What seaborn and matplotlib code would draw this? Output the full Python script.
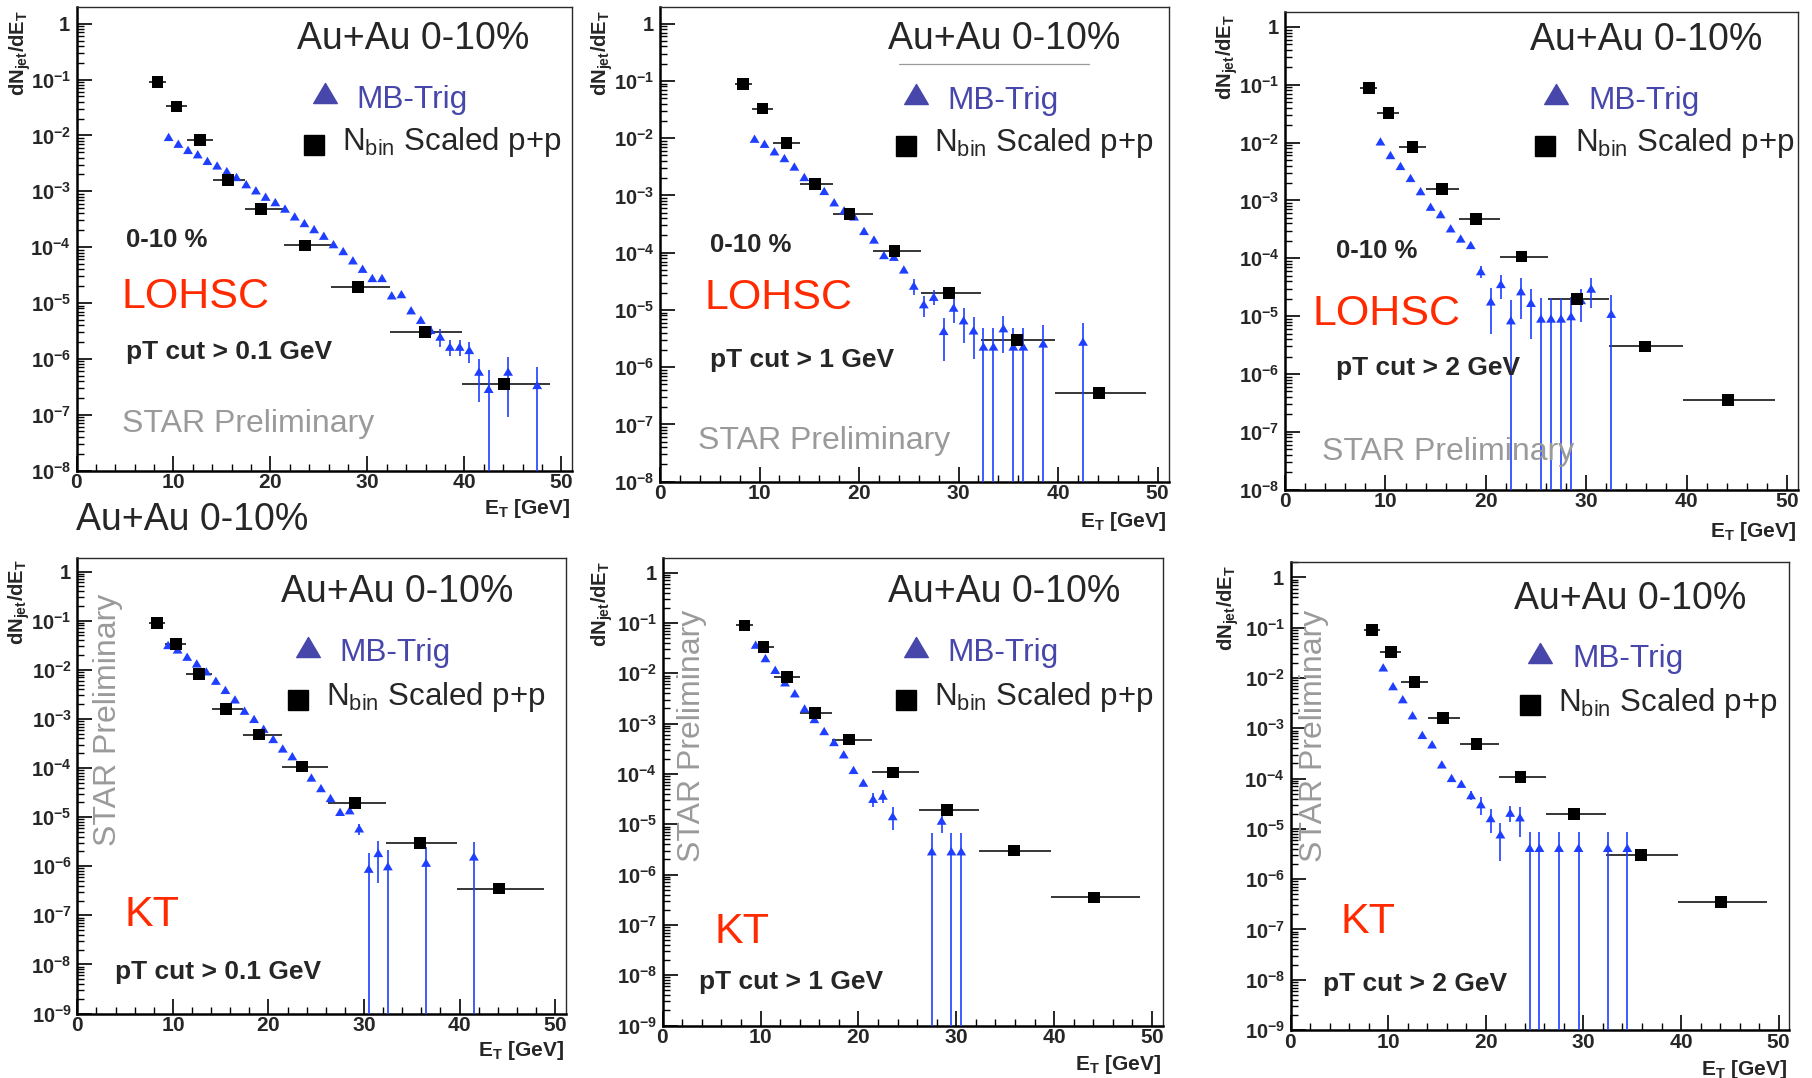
import numpy as np
import matplotlib
matplotlib.use("Agg")
import matplotlib.pyplot as plt
import seaborn as sns
from matplotlib.path import Path
from matplotlib.lines import Line2D
from matplotlib.ticker import (FixedLocator, FuncFormatter, LogLocator,
                               MultipleLocator, NullFormatter)

# ---------------------------------------------------------------- data
# N_bin scaled p+p reference spectrum (identical in all six panels)
pp_et = [8.35, 10.3, 12.7, 15.6, 19.05, 23.55, 29.05, 35.9, 44.1]
pp_bin_lo = [7.5, 9.2, 11.35, 14.05, 17.35, 21.4, 26.2, 32.3, 39.7]
pp_bin_hi = [9.2, 11.35, 14.05, 17.35, 21.4, 26.2, 32.3, 39.7, 48.8]
pp_dndet = [0.089, 0.033, 0.0083, 0.0016, 4.8e-4, 1.07e-4, 1.95e-5, 3.0e-6, 3.5e-7]

# MB-Trig Au+Au, LOHSC, pT cut > 0.1 GeV
lohsc01_et = [9.5, 10.5, 11.5, 12.5, 13.5, 14.5, 15.5, 16.5, 17.5, 18.5, 19.5, 20.5,
              21.5, 22.5, 23.5, 24.5, 25.5, 26.5, 27.5, 28.5, 29.5, 30.5, 31.5, 32.5,
              33.5, 34.5, 35.5, 36.5, 37.5, 38.5, 39.5, 40.5, 41.5, 42.5, 44.5, 47.5]
lohsc01_val = [9.4e-3, 7.1e-3, 5.5e-3, 4.6e-3, 3.5e-3, 2.9e-3, 2.3e-3, 1.8e-3, 1.34e-3,
               1.04e-3, 8.0e-4, 6.4e-4, 4.9e-4, 3.55e-4, 2.7e-4, 2.1e-4, 1.6e-4, 1.13e-4,
               8.5e-5, 5.8e-5, 4.1e-5, 2.8e-5, 2.8e-5, 1.37e-5, 1.44e-5, 7.4e-6, 5.0e-6,
               3.3e-6, 2.5e-6, 1.65e-6, 1.65e-6, 1.44e-6, 5.9e-7, 2.9e-7, 5.9e-7, 3.4e-7]
lohsc01_err = [0, 0, 0, 0, 0, 0, 0, 0, 0, 0, 0, 0, 0, 0, 0, 0, 0, 0, 0, 0, 0, 0, 0, 0,
               0, 0, 0, 6e-7, 8.5e-7, 5.5e-7, 5.5e-7, 6e-7, 4.2e-7, 3.5e-7, 5e-7, 3.8e-7]

# MB-Trig Au+Au, LOHSC, pT cut > 1 GeV
lohsc1_et = [9.5, 10.5, 11.5, 12.5, 13.5, 14.5, 15.5, 16.5, 17.5, 18.5, 19.5, 20.5,
             21.5, 22.5, 23.5, 24.5, 25.5, 26.5, 27.5, 28.5, 29.5, 30.5, 31.5, 32.5,
             33.5, 34.5, 35.5, 36.5, 38.5, 42.5]
lohsc1_val = [9.8e-3, 8.0e-3, 5.9e-3, 4.5e-3, 3.2e-3, 2.1e-3, 1.7e-3, 1.2e-3, 7.6e-4,
              5.5e-4, 4.3e-4, 2.4e-4, 1.7e-4, 9.1e-5, 8.5e-5, 5.1e-5, 2.66e-5, 1.26e-5,
              1.7e-5, 4.3e-6, 1.1e-5, 6.6e-6, 4.4e-6, 2.3e-6, 2.3e-6, 4.8e-6, 2.3e-6,
              2.3e-6, 2.6e-6, 2.8e-6]
lohsc1_err = [0, 0, 0, 0, 0, 0, 0, 0, 0, 0, 0, 0, 0, 0, 0, 0, 8e-6, 5e-6, 5e-6, 3e-6,
              5e-6, 4e-6, 3e-6, 2.6e-6, 2.6e-6, 3e-6, 2.6e-6, 2.6e-6, 2.8e-6, 3.2e-6]

# MB-Trig Au+Au, LOHSC, pT cut > 2 GeV
lohsc2_et = [9.5, 10.5, 11.5, 12.5, 13.5, 14.5, 15.5, 16.5, 17.5, 18.5, 19.5, 20.5,
             21.5, 22.5, 23.5, 24.5, 25.5, 26.5, 27.5, 28.5, 29.5, 30.5, 32.5]
lohsc2_val = [1.05e-2, 6.1e-3, 3.95e-3, 2.45e-3, 1.45e-3, 7.8e-4, 5.8e-4, 3.3e-4, 2.2e-4,
              1.7e-4, 6.0e-5, 1.8e-5, 3.6e-5, 8.5e-6, 2.7e-5, 1.7e-5, 9.1e-6, 9.1e-6,
              9.1e-6, 1.0e-5, 1.9e-5, 3.0e-5, 1.1e-5]
lohsc2_err = [0, 0, 0, 0, 0, 0, 0, 0, 0, 0, 1.5e-5, 1.3e-5, 1.6e-5, 1.05e-5, 1.8e-5,
              1.3e-5, 1.15e-5, 1.15e-5, 1.15e-5, 1.15e-5, 1.1e-5, 1.6e-5, 1.2e-5]

# MB-Trig Au+Au, KT, pT cut > 0.1 GeV
kt01_et = [9.5, 10.5, 11.5, 12.5, 13.5, 14.5, 15.5, 16.5, 17.5, 18.5, 19.5, 20.5,
           21.5, 22.5, 23.5, 24.5, 25.5, 26.5, 27.5, 28.5, 29.5, 30.5, 31.5, 32.5,
           36.5, 41.5]
kt01_val = [3.2e-2, 2.6e-2, 1.85e-2, 1.35e-2, 9.3e-3, 6.0e-3, 3.9e-3, 2.5e-3, 1.47e-3,
            1.0e-3, 6.3e-4, 3.9e-4, 2.5e-4, 1.74e-4, 1.07e-4, 6.4e-5, 3.9e-5, 2.45e-5,
            1.28e-5, 1.38e-5, 5.9e-6, 8.9e-7, 1.86e-6, 1.0e-6, 1.18e-6, 1.58e-6]
kt01_err = [0, 0, 0, 0, 0, 0, 0, 0, 0, 0, 0, 0, 0, 0, 0, 0, 0, 0, 0, 0,
            1.5e-6, 1.0e-6, 1.4e-6, 1.1e-6, 1.25e-6, 1.6e-6]

# MB-Trig Au+Au, KT, pT cut > 1 GeV
kt1_et = [9.5, 10.5, 11.5, 12.5, 13.5, 14.5, 15.5, 16.5, 17.5, 18.5, 19.5, 20.5,
          21.5, 22.5, 23.5, 27.5, 28.5, 29.5, 30.5]
kt1_val = [3.7e-2, 2.0e-2, 1.17e-2, 6.6e-3, 4.0e-3, 2.0e-3, 1.23e-3, 7.1e-4, 4.3e-4,
           2.45e-4, 1.2e-4, 6.7e-5, 3.2e-5, 3.7e-5, 1.45e-5, 2.9e-6, 1.18e-5, 2.9e-6,
           2.9e-6]
kt1_err = [0, 0, 0, 0, 0, 0, 0, 0, 0, 0, 0, 0, 1e-5, 1e-5, 7e-6, 3.7e-6, 5e-6,
           3.7e-6, 3.7e-6]

# MB-Trig Au+Au, KT, pT cut > 2 GeV
kt2_et = [9.5, 10.5, 11.5, 12.5, 13.5, 14.5, 15.5, 16.5, 17.5, 18.5, 19.5, 20.5,
          21.5, 22.5, 23.5, 24.5, 25.5, 27.5, 29.5, 32.5, 34.5]
kt2_val = [1.63e-2, 6.9e-3, 3.8e-3, 1.82e-3, 7.4e-4, 4.8e-4, 1.92e-4, 1.03e-4, 7.9e-5,
           4.7e-5, 3.1e-5, 1.64e-5, 7.8e-6, 2.1e-5, 1.7e-5, 4.2e-6, 4.2e-6, 4.2e-6,
           4.2e-6, 4.2e-6, 4.2e-6]
kt2_err = [0, 0, 0, 0, 0, 0, 0, 0, 0, 1e-5, 1.2e-5, 8e-6, 5.5e-6, 7e-6, 1e-5,
           4.5e-6, 4.5e-6, 4.5e-6, 4.5e-6, 4.5e-6, 4.5e-6]

system_label = "Au+Au 0-10%"
centrality_label = "0-10 %"
mb_label = "MB-Trig"
pp_label = r"N$_{\mathrm{bin}}$ Scaled p+p"
prelim_label = "STAR Preliminary"

# ---------------------------------------------------------------- style
sns.set_theme(style="ticks")
plt.rcParams["font.family"] = ["Liberation Sans", "DejaVu Sans"]
plt.rcParams["mathtext.fontset"] = "custom"
plt.rcParams["mathtext.rm"] = "Liberation Sans"
plt.rcParams["mathtext.it"] = "Liberation Sans:italic"
plt.rcParams["mathtext.bf"] = "Liberation Sans:bold"
plt.rcParams["mathtext.sf"] = "Liberation Sans"

MB_BLUE = "#1f3fff"
LEG_BLUE = "#4747ab"
ALGO_RED = "#ff2a00"
STAR_GREY = "#9a9a9a"

W, H = 1812, 1078
fig = plt.figure(figsize=(W / 100, H / 100), dpi=100)
fig.patch.set_facecolor("white")

TRI = Path([(-1.0, -0.85), (1.0, -0.85), (0.0, 0.85), (-1.0, -0.85)],
           [Path.MOVETO, Path.LINETO, Path.LINETO, Path.CLOSEPOLY])


def fx(x):
    return x / W


def fy(y):
    return 1 - y / H


def put(x, y, s, **kw):
    fig.text(fx(x), fy(y), s, **kw)


def log_label(v, pos):
    e = int(round(np.log10(v)))
    return r"$\mathbf{1}$" if e == 0 else r"$\mathbf{10^{%d}}$" % e


def lin_label(v, pos):
    return r"$\mathbf{%d}$" % int(round(v))


panels = [
    dict(rect=(76.5, 7.4, 572.1, 470.5), ymin=-8, ytop=0.292,
         et=lohsc01_et, val=lohsc01_val, err=lohsc01_err,
         algo="LOHSC", cut="pT cut > 0.1 GeV",
         auau=(296.6, 49.0), tri=(324.5, 93), mbt=(355.9, 108.2),
         sq=(313.8, 145.3), nbin=(342.5, 150.4), cent=(125.5, 246.7),
         algo_xy=(121.7, 307.6), cut_xy=(125.5, 358.6),
         star=(121.7, 431.6), star_vert=False,
         xlab=(570, 497), ylab=(20.5, 10)),
    dict(rect=(660.0, 6.8, 1168.6, 481.7), ymin=-8, ytop=0.295,
         et=lohsc1_et, val=lohsc1_val, err=lohsc1_err,
         algo="LOHSC", cut="pT cut > 1 GeV",
         auau=(888.5, 49.0), tri=(916, 94), mbt=(947.8, 109),
         sq=(905.7, 146), nbin=(934.4, 151), cent=(710.5, 252),
         algo_xy=(704, 309), cut_xy=(710.5, 367),
         star=(697.9, 449.5), star_vert=False,
         xlab=(1166, 510), ylab=(602, 10)),
    dict(rect=(1285.1, 12.1, 1797.9, 489.7), ymin=-8, ytop=0.256,
         et=lohsc2_et, val=lohsc2_val, err=lohsc2_err,
         algo="LOHSC", cut="pT cut > 2 GeV",
         auau=(1529.8, 49.9), tri=(1556, 93.7), mbt=(1588.4, 109),
         sq=(1545.4, 146.4), nbin=(1574.7, 151.5), cent=(1335.8, 258.3),
         algo_xy=(1312.4, 325.4), cut_xy=(1335.8, 375.3),
         star=(1321.8, 459.7), star_vert=False,
         xlab=(1796, 520), ylab=(1227, 13.8)),
    dict(rect=(77.3, 557.8, 565.6, 1013.5), ymin=-9, ytop=0.281,
         et=kt01_et, val=kt01_val, err=kt01_err,
         algo="KT", cut="pT cut > 0.1 GeV",
         auau=(281.3, 601.8), tri=(308, 647), mbt=(339.8, 661),
         sq=(297.7, 699.5), nbin=(326, 704.5), cent=None,
         algo_xy=(124.4, 926), cut_xy=(114.8, 979),
         star=(116, 720), star_vert=True,
         xlab=(564, 1039), ylab=(19.5, 558.9)),
    dict(rect=(662.7, 557.8, 1162.8, 1025.5), ymin=-9, ytop=0.294,
         et=kt1_et, val=kt1_val, err=kt1_err,
         algo="KT", cut="pT cut > 1 GeV",
         auau=(888.5, 601.8), tri=(916, 647), mbt=(947.8, 661),
         sq=(905.7, 699.5), nbin=(934.4, 704.5), cent=None,
         algo_xy=(714.4, 943.2), cut_xy=(699, 989.5),
         star=(700, 735.6), star_vert=True,
         xlab=(1161, 1053), ylab=(602, 560.6)),
    dict(rect=(1290.5, 562.3, 1789.4, 1030.0), ymin=-9, ytop=0.302,
         et=kt2_et, val=kt2_val, err=kt2_err,
         algo="KT", cut="pT cut > 2 GeV",
         auau=(1514.2, 608.6), tri=(1539.6, 653.2), mbt=(1572.7, 667),
         sq=(1529.8, 705.4), nbin=(1558.3, 710.5), cent=None,
         algo_xy=(1340.5, 933), cut_xy=(1323, 991),
         star=(1322, 735.6), star_vert=True,
         xlab=(1787, 1058), ylab=(1228, 564.7)),
]

pp_xerr = [np.subtract(pp_et, pp_bin_lo), np.subtract(pp_bin_hi, pp_et)]

for p in panels:
    L, T, R, B = p["rect"]
    ax = fig.add_axes([fx(L), fy(B), (R - L) / W, (B - T) / H])
    ax.set_yscale("log")

    # p+p bin widths, then the MB spectrum with its errors, then the p+p squares
    ax.errorbar(pp_et, pp_dndet, xerr=pp_xerr, fmt="none", ecolor="black",
                elinewidth=1.1, capsize=0, zorder=2)
    ax.errorbar(p["et"], p["val"], yerr=p["err"], fmt="none", ecolor=MB_BLUE,
                elinewidth=1.2, capsize=0, zorder=3)
    sns.scatterplot(x=p["et"], y=p["val"], marker=TRI, s=50, color=MB_BLUE,
                    linewidth=0, edgecolor="none", ax=ax, zorder=4, legend=False)
    sns.scatterplot(x=pp_et, y=pp_dndet, marker="s", s=72, color="black",
                    linewidth=0, edgecolor="none", ax=ax, zorder=5, legend=False)

    ax.set_xlim(0, 51.1)
    ax.set_ylim(10.0 ** p["ymin"], 10.0 ** p["ytop"])
    ax.set_xlabel("")
    ax.set_ylabel("")

    ax.xaxis.set_major_locator(MultipleLocator(10))
    ax.xaxis.set_minor_locator(MultipleLocator(2))
    ax.xaxis.set_major_formatter(FuncFormatter(lin_label))
    ax.yaxis.set_major_locator(FixedLocator(10.0 ** np.arange(p["ymin"], 1)))
    ax.yaxis.set_minor_locator(LogLocator(base=10, subs=np.arange(2, 10), numticks=30))
    ax.yaxis.set_major_formatter(FuncFormatter(log_label))
    ax.yaxis.set_minor_formatter(NullFormatter())
    ax.tick_params(which="both", direction="in", top=False, right=False,
                   color="black")
    ax.tick_params(which="major", length=10.5, width=1.2)
    ax.tick_params(which="minor", length=5.3, width=1.0)
    ax.tick_params(axis="y", which="major", pad=4, labelsize=14.5)
    ax.tick_params(axis="x", which="major", pad=2, labelsize=15)

    for side in ("left", "bottom"):
        ax.spines[side].set_linewidth(1.8)
        ax.spines[side].set_color("black")
    for side in ("top", "right"):
        ax.spines[side].set_linewidth(1.0)
        ax.spines[side].set_color("#2a2a2a")
    ax.grid(False)

    # axis titles
    put(*p["xlab"], r"$\mathbf{E_T}$ [GeV]", fontsize=15, fontweight="bold",
        ha="right", va="top")
    put(*p["ylab"], r"$\mathbf{dN_{jet}/dE_{T}}$", fontsize=14.5, rotation=90,
        ha="center", va="top")

    # annotations
    put(*p["auau"], system_label, fontsize=27, ha="left", va="baseline")
    fig.add_artist(Line2D([fx(p["tri"][0])], [fy(p["tri"][1])], marker=TRI,
                          markersize=17, color=LEG_BLUE, linestyle="none",
                          transform=fig.transFigure))
    put(*p["mbt"], mb_label, fontsize=22.7, color=LEG_BLUE, ha="left", va="baseline")
    fig.add_artist(Line2D([fx(p["sq"][0])], [fy(p["sq"][1])], marker="s",
                          markersize=15, color="black", linestyle="none",
                          transform=fig.transFigure))
    put(*p["nbin"], pp_label, fontsize=22.5, ha="left", va="baseline")
    if p["cent"] is not None:
        put(*p["cent"], centrality_label, fontsize=18.5, fontweight="bold",
            ha="left", va="baseline")
    put(*p["algo_xy"], p["algo"], fontsize=31, color=ALGO_RED, ha="left",
        va="baseline")
    put(*p["cut_xy"], p["cut"], fontsize=19, fontweight="bold", ha="left",
        va="baseline")
    if p["star_vert"]:
        put(*p["star"], prelim_label, fontsize=23, color=STAR_GREY, rotation=90,
            rotation_mode="anchor", ha="center", va="baseline")
    else:
        put(*p["star"], prelim_label, fontsize=23, color=STAR_GREY, ha="left",
            va="baseline")

# stray caption under the first panel and rule under the second panel title
put(76, 530, system_label, fontsize=27, ha="left", va="baseline")
fig.add_artist(Line2D([fx(899.2), fx(1089.4)], [fy(63.5), fy(63.5)],
                      color="#9a9a9a", linewidth=0.9, transform=fig.transFigure))

fig.savefig("out.png", dpi=100, facecolor="white")
